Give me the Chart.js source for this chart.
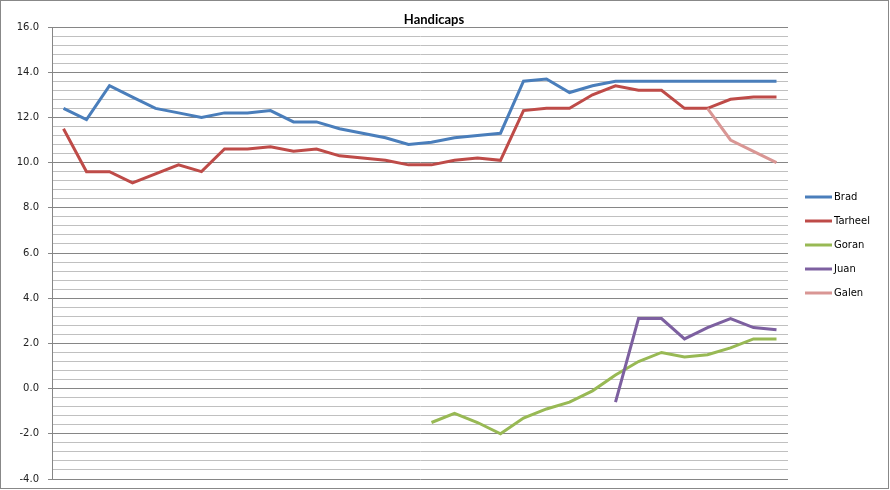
<!DOCTYPE html>
<html>
<head>
<meta charset="utf-8">
<script src="https://cdn.jsdelivr.net/npm/chart.js@4/dist/chart.umd.min.js"></script>
<style>
  html, body { margin: 0; padding: 0; background: #fff; }
  #wrap { width: 890px; height: 490px; position: relative; }
</style>
</head>
<body>
<div id="wrap"><canvas id="handicapChart" width="890" height="490"></canvas></div>
<script>
const rounds = Array.from({ length: 32 }, (_, i) => String(i + 1));

const brad = [12.4, 11.9, 13.4, 12.9, 12.4, 12.2, 12.0, 12.2, 12.2, 12.3,
  11.8, 11.8, 11.5, 11.3, 11.1, 10.8, 10.9, 11.1, 11.2, 11.3,
  13.6, 13.7, 13.1, 13.4, 13.6, 13.6, 13.6, 13.6, 13.6, 13.6, 13.6, 13.6];
const tarheel = [11.5, 9.6, 9.6, 9.1, 9.5, 9.9, 9.6, 10.6, 10.6, 10.7,
  10.5, 10.6, 10.3, 10.2, 10.1, 9.9, 9.9, 10.1, 10.2, 10.1,
  12.3, 12.4, 12.4, 13.0, 13.4, 13.2, 13.2, 12.4, 12.4, 12.8, 12.9, 12.9];
const goran = [null, null, null, null, null, null, null, null, null, null,
  null, null, null, null, null, null,
  -1.5, -1.1, -1.5, -2.0, -1.3, -0.9, -0.6, -0.1, 0.6, 1.2, 1.6, 1.4, 1.5, 1.8, 2.2, 2.2];
const juan = [null, null, null, null, null, null, null, null, null, null,
  null, null, null, null, null, null, null, null, null, null,
  null, null, null, null,
  -0.6, 3.1, 3.1, 2.2, 2.7, 3.1, 2.7, 2.6];
const galen = [null, null, null, null, null, null, null, null, null, null,
  null, null, null, null, null, null, null, null, null, null,
  null, null, null, null, null, null, null, null,
  12.4, 11.0, 10.5, 10.0];

const seriesNames = ["Brad", "Tarheel", "Goran", "Juan", "Galen"];
const seriesColors = ["#4a7ebb", "#be4b48", "#98b954", "#7d60a0", "#d99694"];
const yMin = -4;
const yMax = 16;
const yStep = 0.4;
const yLabelStep = 2;

const isMajor = (v) => Math.abs(v / yLabelStep - Math.round(v / yLabelStep)) < 1e-6;

// frame, title and legend, drawn like the old Excel chart
const excelDecor = {
  id: "excelDecor",
  beforeDraw: (chart) => {
    const ctx = chart.ctx;
    ctx.save();
    ctx.fillStyle = "#fff";
    ctx.fillRect(0, 0, chart.width, chart.height);
    ctx.strokeStyle = "#888";
    ctx.lineWidth = 1;
    ctx.strokeRect(0.5, 0.5, chart.width - 2, chart.height - 2);
    ctx.restore();
  },
  afterDraw: (chart) => {
    const ctx = chart.ctx;
    ctx.save();
    ctx.fillStyle = "#000";
    ctx.font = "bold 13px Lato, 'Open Sans', sans-serif";
    ctx.textAlign = "center";
    ctx.textBaseline = "middle";
    ctx.fillText("Handicaps", 434, 20);

    ctx.font = "10px 'DejaVu Sans', sans-serif";
    ctx.textAlign = "left";
    chart.data.datasets.forEach((ds, i) => {
      const y = 197 + i * 24;
      ctx.strokeStyle = ds.borderColor;
      ctx.lineWidth = 3;
      ctx.beginPath();
      ctx.moveTo(805, y);
      ctx.lineTo(832, y);
      ctx.stroke();
      ctx.fillStyle = "#000";
      ctx.fillText(ds.label, 834, y);
    });
    ctx.restore();
  },
};

const seriesData = [brad, tarheel, goran, juan, galen];

const ctx = document.getElementById("handicapChart").getContext("2d");
new Chart(ctx, {
  type: "line",
  data: {
    labels: rounds,
    datasets: seriesData.map((data, i) => ({
      label: seriesNames[i],
      data: data,
      borderColor: seriesColors[i],
      backgroundColor: seriesColors[i],
      borderWidth: 3,
      pointRadius: 0,
      pointHoverRadius: 0,
      tension: 0,
      spanGaps: false,
      order: seriesNames.length - i,
    })),
  },
  options: {
    responsive: false,
    animation: false,
    layout: {
      padding: { left: 0, top: 27, right: 102, bottom: 11 },
    },
    plugins: {
      legend: { display: false },
      title: { display: false },
      tooltip: { enabled: false },
    },
    scales: {
      x: {
        display: false,
        offset: true,
      },
      y: {
        min: yMin,
        max: yMax,
        grid: {
          color: (c) => (isMajor(c.tick.value) ? "#868686" : "#c0c0c0"),
          tickColor: (c) => (isMajor(c.tick.value) ? "#868686" : "rgba(0,0,0,0)"),
          tickLength: 4,
          lineWidth: 1,
        },
        border: { display: true, color: "#868686", width: 1 },
        ticks: {
          stepSize: yStep,
          autoSkip: false,
          padding: 9,
          color: "#222",
          // small lineHeight so the label half-height does not push the bottom edge up
          font: { family: "'DejaVu Sans', sans-serif", size: 10, lineHeight: 0.4 },
          callback: (value) => (isMajor(value) ? value.toFixed(1) : ""),
        },
        afterFit: (scale) => { scale.width = 52; },
      },
    },
  },
  plugins: [excelDecor],
});
</script>
</body>
</html>
